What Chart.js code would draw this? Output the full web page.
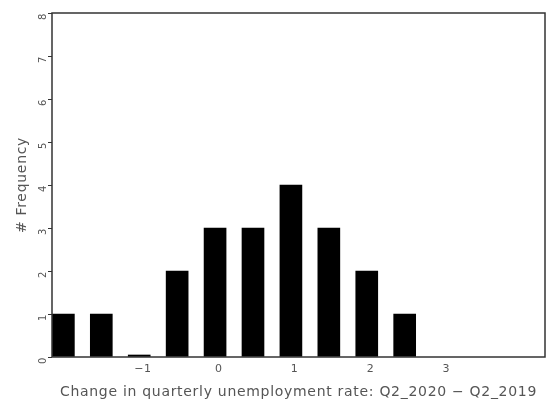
<!DOCTYPE html>
<html lang="en">
  <head>
    <meta charset="UTF-8" />
    <title>Frequency histogram</title>
    <script src="https://cdn.jsdelivr.net/npm/chart.js@4.4.1/dist/chart.umd.min.js"></script>
    <style>
      body { margin: 0; background: #fff; }
      #wrap { width: 547px; height: 405px; }
    </style>
  </head>
  <body>
    <div id="wrap"><canvas id="myChart"></canvas></div>

    <script>
      // bin centres (change in rate) and counts per bin
      const binCenters = [-2.05, -1.55, -1.05, -0.55, -0.05, 0.45, 0.95, 1.45, 1.95, 2.45];
      const counts = [1, 1, 0, 2, 3, 3, 4, 3, 2, 1];
      const xTicks = [-1, 0, 1, 2, 3];
      const yTicks = [0, 1, 2, 3, 4, 5, 6, 7, 8];

      const ink = "#555";
      const axisInk = "#333";

      // frame around the plot area + a bit of letter spacing for the wide old-style font
      const frame = {
        id: "frame",
        beforeDraw(chart) {
          chart.ctx.letterSpacing = "0.7px";
        },
        afterDraw(chart) {
          const a = chart.chartArea;
          const c = chart.ctx;
          c.save();
          c.strokeStyle = axisInk;
          c.lineWidth = 1.5;
          c.strokeRect(a.left, a.top, a.right - a.left, a.bottom - a.top);
          c.restore();
          c.letterSpacing = "0px";
        },
      };

      new Chart(document.getElementById("myChart"), {
        type: "bar",
        data: {
          datasets: [
            {
              label: "# Frequency",
              data: binCenters.map((x, i) => ({ x: x, y: counts[i] })),
              backgroundColor: "#000",
              barThickness: 22,
              minBarLength: 2,
            },
          ],
        },
        options: {
          responsive: true,
          maintainAspectRatio: false,
          animation: false,
          layout: { padding: { top: 13, right: 2, left: 14, bottom: 0 } },
          plugins: { legend: { display: false }, tooltip: { enabled: false } },
          scales: {
            x: {
              type: "linear",
              offset: false,
              min: -2.2,
              max: 4.3,
              afterBuildTicks: (s) => { s.ticks = xTicks.map((v) => ({ value: v })); },
              afterFit: (s) => { s.height = 48; },
              grid: { display: false, drawTicks: false },
              border: { display: false },
              ticks: {
                color: ink,
                font: { family: "DejaVu Sans", size: 11 },
                padding: 6,
                callback: (v) => (v < 0 ? "\u2212" + Math.abs(v) : String(v)),
              },
              title: {
                display: true,
                text: "Change in quarterly unemployment rate: Q2_2020 \u2212 Q2_2019",
                color: ink,
                font: { family: "DejaVu Sans", size: 14 },
                padding: { top: 2 },
              },
            },
            y: {
              min: 0,
              max: 8,
              afterBuildTicks: (s) => { s.ticks = yTicks.map((v) => ({ value: v })); },
              afterFit: (s) => { s.width = 38; },
              grid: { drawOnChartArea: false, tickLength: 4, color: axisInk },
              border: { display: false },
              ticks: {
                color: ink,
                font: { family: "DejaVu Sans", size: 10 },
                minRotation: 90,
                maxRotation: 90,
                padding: 5,
              },
              title: {
                display: true,
                text: "# Frequency",
                color: ink,
                font: { family: "DejaVu Sans", size: 14 },
                padding: { top: 0, bottom: 0 },
              },
            },
          },
        },
        plugins: [frame],
      });
    </script>
  </body>
</html>
